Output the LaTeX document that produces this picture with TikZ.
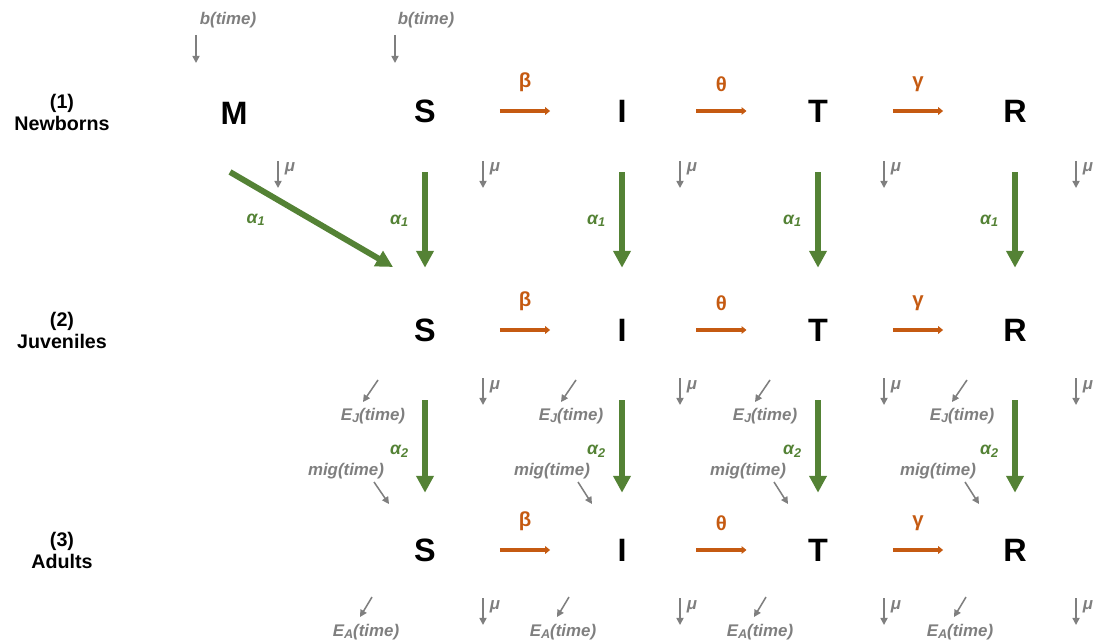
\documentclass[tikz,border=0pt]{standalone}
\usepackage{fontspec}
\setmainfont{Liberation Sans}
\usetikzlibrary{arrows.meta,positioning,calc}
\definecolor{rateorange}{HTML}{C55A11}
\definecolor{agegreen}{HTML}{548235}
\definecolor{flowgrey}{HTML}{7F7F7F}
\newcommand{\lowsub}[1]{\raisebox{-0.25ex}{\fontsize{9}{9}\selectfont #1}}

\begin{document}
\begin{tikzpicture}[
  x=0.025cm, y=-0.025cm,
  state/.style={font=\fontsize{23}{23}\selectfont\bfseries,
                inner sep=0pt, minimum height=0.8cm},
  grouplbl/.style={font=\fontsize{14}{15.6}\selectfont\bfseries,
                   align=center, inner sep=0pt},
  ratelbl/.style={font=\fontsize{14.5}{14.5}\selectfont\bfseries,
                  text=rateorange, inner sep=0pt},
  agelbl/.style={font=\fontsize{12.5}{12.5}\selectfont\bfseries\itshape,
                 text=agegreen, inner sep=0pt},
  flowlbl/.style={font=\fontsize{12}{12}\selectfont\bfseries\itshape,
                  text=flowgrey, inner sep=0pt},
  rate/.style={-{Triangle[length=3.5pt,width=5.4pt]}, line width=3.2pt, draw=rateorange},
  age/.style={-{Triangle[length=12pt,width=12pt]}, line width=4.2pt, draw=agegreen},
  flow/.style={-{Triangle[length=5pt,width=5pt]}, line width=1.1pt, draw=flowgrey}
]
\useasboundingbox (0,0) rectangle (1095,642);

% age groups
\node[grouplbl] (g1) at (62,112) {(1)\\Newborns};
\node[grouplbl] (g2) at (62,330) {(2)\\Juveniles};
\node[grouplbl] (g3) at (62,550) {(3)\\Adults};

% compartments
\node[state] (M) at (234,113) {M};
\node[state] (S1) at (425,111) {S};
\node[state] (I1) at (622,111) {I};
\node[state] (T1) at (818,111) {T};
\node[state] (R1) at (1015,111) {R};

\node[state] (S2) at (425,330) {S};
\node[state] (I2) at (622,330) {I};
\node[state] (T2) at (818,330) {T};
\node[state] (R2) at (1015,330) {R};

\node[state] (S3) at (425,550) {S};
\node[state] (I3) at (622,550) {I};
\node[state] (T3) at (818,550) {T};
\node[state] (R3) at (1015,550) {R};

% infection, treatment, recovery
\draw[rate] ($(S1)!0.38!(I1)$) -- node[ratelbl, above=0.42cm] (beta1) {β} ($(S1)!0.635!(I1)$);
\draw[rate] ($(I1)!0.38!(T1)$) -- node[ratelbl, above=0.42cm] (theta1) {θ} ($(I1)!0.635!(T1)$);
\draw[rate] ($(T1)!0.38!(R1)$) -- node[ratelbl, above=0.42cm] (gamma1) {γ} ($(T1)!0.635!(R1)$);

\draw[rate] ($(S2)!0.38!(I2)$) -- node[ratelbl, above=0.42cm] (beta2) {β} ($(S2)!0.635!(I2)$);
\draw[rate] ($(I2)!0.38!(T2)$) -- node[ratelbl, above=0.42cm] (theta2) {θ} ($(I2)!0.635!(T2)$);
\draw[rate] ($(T2)!0.38!(R2)$) -- node[ratelbl, above=0.42cm] (gamma2) {γ} ($(T2)!0.635!(R2)$);

\draw[rate] ($(S3)!0.38!(I3)$) -- node[ratelbl, above=0.42cm] (beta3) {β} ($(S3)!0.635!(I3)$);
\draw[rate] ($(I3)!0.38!(T3)$) -- node[ratelbl, above=0.42cm] (theta3) {θ} ($(I3)!0.635!(T3)$);
\draw[rate] ($(T3)!0.38!(R3)$) -- node[ratelbl, above=0.42cm] (gamma3) {γ} ($(T3)!0.635!(R3)$);

% ageing
\draw[age] ([shift={(-4,59)}]M.center) -- node[agelbl, left=1.1cm] (a1m) {α\lowsub{1}} ([shift={(-32,-63)}]S2.center);
\draw[age, shorten <=1.125cm, shorten >=1.15cm] (S1) -- node[agelbl, left=0.35cm] (a1s) {α\lowsub{1}} (S2);
\draw[age, shorten <=1.125cm, shorten >=1.15cm] (I1) -- node[agelbl, left=0.35cm] (a1i) {α\lowsub{1}} (I2);
\draw[age, shorten <=1.125cm, shorten >=1.15cm] (T1) -- node[agelbl, left=0.35cm] (a1t) {α\lowsub{1}} (T2);
\draw[age, shorten <=1.125cm, shorten >=1.15cm] (R1) -- node[agelbl, left=0.35cm] (a1r) {α\lowsub{1}} (R2);

\draw[age, shorten <=1.35cm, shorten >=1.025cm] (S2) -- node[agelbl, pos=0.56, left=0.35cm] (a2s) {α\lowsub{2}} (S3);
\draw[age, shorten <=1.35cm, shorten >=1.025cm] (I2) -- node[agelbl, pos=0.56, left=0.35cm] (a2i) {α\lowsub{2}} (I3);
\draw[age, shorten <=1.35cm, shorten >=1.025cm] (T2) -- node[agelbl, pos=0.56, left=0.35cm] (a2t) {α\lowsub{2}} (T3);
\draw[age, shorten <=1.35cm, shorten >=1.025cm] (R2) -- node[agelbl, pos=0.56, left=0.35cm] (a2r) {α\lowsub{2}} (R3);

% births
\node[flowlbl] (bm) at (228,20) {b(time)};
\node[flowlbl] (bs) at (426,20) {b(time)};
\draw[flow] ([shift={(-32,15)}]bm.center) -- ([shift={(-32,43)}]bm.center);
\draw[flow] ([shift={(-31,15)}]bs.center) -- ([shift={(-31,43)}]bs.center);

% mortality
\node[flowlbl] (mu1m) at (290,169) {μ};
\node[flowlbl] (mu1s) at (495,169) {μ};
\node[flowlbl] (mu1i) at (692,169) {μ};
\node[flowlbl] (mu1t) at (896,169) {μ};
\node[flowlbl] (mu1r) at (1088,169) {μ};
\node[flowlbl] (mu2s) at (495,387) {μ};
\node[flowlbl] (mu2i) at (692,387) {μ};
\node[flowlbl] (mu2t) at (896,387) {μ};
\node[flowlbl] (mu2r) at (1088,387) {μ};
\node[flowlbl] (mu3s) at (495,607) {μ};
\node[flowlbl] (mu3i) at (692,607) {μ};
\node[flowlbl] (mu3t) at (896,607) {μ};
\node[flowlbl] (mu3r) at (1088,607) {μ};
\draw[flow] ([shift={(-12,-8)}]mu1m.center) -- ([shift={(-12,19)}]mu1m.center);
\draw[flow] ([shift={(-12,-8)}]mu1s.center) -- ([shift={(-12,19)}]mu1s.center);
\draw[flow] ([shift={(-12,-8)}]mu1i.center) -- ([shift={(-12,19)}]mu1i.center);
\draw[flow] ([shift={(-12,-8)}]mu1t.center) -- ([shift={(-12,19)}]mu1t.center);
\draw[flow] ([shift={(-12,-8)}]mu1r.center) -- ([shift={(-12,19)}]mu1r.center);
\draw[flow] ([shift={(-12,-9)}]mu2s.center) -- ([shift={(-12,18)}]mu2s.center);
\draw[flow] ([shift={(-12,-9)}]mu2i.center) -- ([shift={(-12,18)}]mu2i.center);
\draw[flow] ([shift={(-12,-9)}]mu2t.center) -- ([shift={(-12,18)}]mu2t.center);
\draw[flow] ([shift={(-12,-9)}]mu2r.center) -- ([shift={(-12,18)}]mu2r.center);
\draw[flow] ([shift={(-12,-9)}]mu3s.center) -- ([shift={(-12,18)}]mu3s.center);
\draw[flow] ([shift={(-12,-9)}]mu3i.center) -- ([shift={(-12,18)}]mu3i.center);
\draw[flow] ([shift={(-12,-9)}]mu3t.center) -- ([shift={(-12,18)}]mu3t.center);
\draw[flow] ([shift={(-12,-9)}]mu3r.center) -- ([shift={(-12,18)}]mu3r.center);

% emigration of juveniles
\node[flowlbl] (ejs) at (373,416) {E\lowsub{J}(time)};
\node[flowlbl] (eji) at (571,416) {E\lowsub{J}(time)};
\node[flowlbl] (ejt) at (765,416) {E\lowsub{J}(time)};
\node[flowlbl] (ejr) at (962,416) {E\lowsub{J}(time)};
\draw[flow] ([shift={(5,-36)}]ejs.center) -- ([shift={(-10,-14)}]ejs.center);
\draw[flow] ([shift={(5,-36)}]eji.center) -- ([shift={(-10,-14)}]eji.center);
\draw[flow] ([shift={(5,-36)}]ejt.center) -- ([shift={(-10,-14)}]ejt.center);
\draw[flow] ([shift={(5,-36)}]ejr.center) -- ([shift={(-10,-14)}]ejr.center);

% immigration into adults
\node[flowlbl] (mgs) at (346,471) {mig(time)};
\node[flowlbl] (mgi) at (552,471) {mig(time)};
\node[flowlbl] (mgt) at (748,471) {mig(time)};
\node[flowlbl] (mgr) at (938,471) {mig(time)};
\draw[flow] ([shift={(28,11)}]mgs.center) -- ([shift={(43,33)}]mgs.center);
\draw[flow] ([shift={(26,11)}]mgi.center) -- ([shift={(40,33)}]mgi.center);
\draw[flow] ([shift={(26,11)}]mgt.center) -- ([shift={(40,33)}]mgt.center);
\draw[flow] ([shift={(27,11)}]mgr.center) -- ([shift={(41,33)}]mgr.center);

% emigration of adults
\node[flowlbl] (eas) at (366,632) {E\lowsub{A}(time)};
\node[flowlbl] (eai) at (563,632) {E\lowsub{A}(time)};
\node[flowlbl] (eat) at (760,632) {E\lowsub{A}(time)};
\node[flowlbl] (ear) at (960,632) {E\lowsub{A}(time)};
\draw[flow] ([shift={(6,-35)}]eas.center) -- ([shift={(-6,-15)}]eas.center);
\draw[flow] ([shift={(6,-35)}]eai.center) -- ([shift={(-6,-15)}]eai.center);
\draw[flow] ([shift={(6,-35)}]eat.center) -- ([shift={(-6,-15)}]eat.center);
\draw[flow] ([shift={(6,-35)}]ear.center) -- ([shift={(-6,-15)}]ear.center);
\end{tikzpicture}
\end{document}
